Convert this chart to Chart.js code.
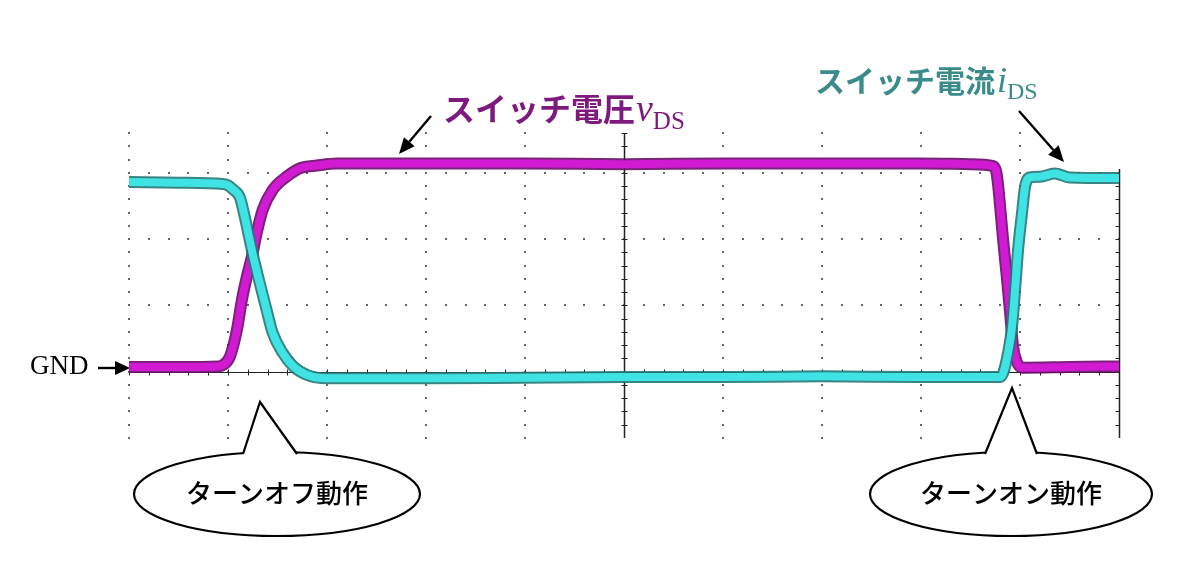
<!DOCTYPE html>
<html>
<head>
<meta charset="utf-8">
<script src="https://cdn.jsdelivr.net/npm/chart.js@4/dist/chart.umd.min.js"></script>
<style>
html,body{margin:0;padding:0;background:#fff;}
#wrap{width:1200px;height:582px;position:relative;}
</style>
</head>
<body>
<div id="wrap"><canvas id="c" width="1200" height="582"></canvas></div>
<script>
// time axis in oscilloscope divisions, amplitude in vertical divisions (GND = 0)
const vdsTime = [0, 0.5, 0.9, 0.95, 1.02, 1.09, 1.14, 1.19, 1.24, 1.29, 1.35, 1.45, 1.6, 1.73, 1.9, 2.1, 3, 4, 5, 6, 7, 8, 8.5, 8.73, 8.76, 8.78, 8.8, 8.83, 8.87, 8.9, 8.93, 8.97, 9.02, 9.5, 10];
const vdsValues = [0.07, 0.07, 0.08, 0.1, 0.23, 0.63, 1.08, 1.43, 1.73, 2.09, 2.44, 2.74, 2.95, 3.07, 3.11, 3.14, 3.14, 3.14, 3.13, 3.14, 3.14, 3.14, 3.13, 3.1, 3.02, 2.8, 2.48, 1.98, 1.38, 0.89, 0.38, 0.14, 0.06, 0.07, 0.08];
const idsTime = [0, 0.5, 0.95, 1.0, 1.05, 1.12, 1.17, 1.22, 1.27, 1.32, 1.39, 1.45, 1.55, 1.66, 1.8, 2.0, 3, 4, 5, 6, 7, 8, 8.5, 8.8, 8.83, 8.88, 8.92, 8.95, 8.98, 9.02, 9.05, 9.1, 9.2, 9.35, 9.5, 10];
const idsValues = [2.86, 2.85, 2.83, 2.81, 2.75, 2.63, 2.33, 1.98, 1.64, 1.34, 0.93, 0.59, 0.29, 0.08, -0.05, -0.1, -0.1, -0.09, -0.08, -0.08, -0.07, -0.08, -0.08, -0.08, -0.02, 0.29, 0.68, 1.23, 1.83, 2.39, 2.78, 2.93, 2.94, 2.99, 2.93, 2.92];

const xDivisions = [0, 1, 2, 3, 4, 5, 6, 7, 8, 9, 10];
const yDivisions = [1, 2, 3];

const vdsLabel = 'スイッチ電圧';
const idsLabel = 'スイッチ電流';
const gndLabel = 'GND';
const turnOffLabel = 'ターンオフ動作';
const turnOnLabel = 'ターンオン動作';

const toPts = (xs, ys) => xs.map((t, i) => ({x: t, y: ys[i]}));

const gridPlugin = {
  id: 'scopeGrid',
  beforeDatasetsDraw(chart) {
    const {ctx, scales: {x, y}, chartArea: a} = chart;
    ctx.save();
    ctx.fillStyle = '#666';
    xDivisions.forEach(gx => {
      if (gx === 5 || gx === 10) return;
      const px = Math.round(x.getPixelForValue(gx));
      for (let k = -5; k <= 18; k++) {
        const py = Math.round(y.getPixelForValue(k * 0.2));
        if (py < a.top || py > a.bottom) continue;
        ctx.fillRect(px - 1, py - 1, 2, 2);
      }
    });
    yDivisions.forEach(gy => {
      const py = Math.round(y.getPixelForValue(gy));
      for (let k = 0; k <= 50; k++) {
        const px = Math.round(x.getPixelForValue(k * 0.2));
        ctx.fillRect(px - 1, py - 1, 2, 2);
      }
    });
    ctx.strokeStyle = '#222';
    ctx.lineWidth = 1.5;
    const cx = Math.round(x.getPixelForValue(5)) + 0.5;
    ctx.beginPath(); ctx.moveTo(cx, a.top); ctx.lineTo(cx, a.bottom); ctx.stroke();
    const rx = Math.round(x.getPixelForValue(10)) + 0.5;
    ctx.beginPath(); ctx.moveTo(rx, a.top + 36); ctx.lineTo(rx, a.bottom); ctx.stroke();
    const gy = Math.round(y.getPixelForValue(0)) + 0.5;
    ctx.lineWidth = 1.2;
    ctx.beginPath(); ctx.moveTo(a.left, gy); ctx.lineTo(a.right, gy); ctx.stroke();
    ctx.lineWidth = 1;
    for (let k = -5; k <= 18; k++) {
      const py = Math.round(y.getPixelForValue(k * 0.2)) + 0.5;
      if (py < a.top || py > a.bottom) continue;
      ctx.beginPath(); ctx.moveTo(cx - 3, py); ctx.lineTo(cx + 3, py); ctx.stroke();
      if (py > a.top + 36) { ctx.beginPath(); ctx.moveTo(rx - 4, py); ctx.lineTo(rx, py); ctx.stroke(); }
    }
    for (let k = 0; k <= 50; k++) {
      const px = Math.round(x.getPixelForValue(k * 0.2)) + 0.5;
      ctx.beginPath(); ctx.moveTo(px, gy - 3); ctx.lineTo(px, gy + 3); ctx.stroke();
    }
    ctx.restore();
  }
};

function arrow(ctx, x1, y1, x2, y2, head, width) {
  const ang = Math.atan2(y2 - y1, x2 - x1);
  const bx = x2 - head * Math.cos(ang), by = y2 - head * Math.sin(ang);
  ctx.beginPath(); ctx.moveTo(x1, y1); ctx.lineTo(bx, by); ctx.stroke();
  ctx.beginPath();
  ctx.moveTo(x2, y2);
  ctx.lineTo(bx + width * Math.sin(ang), by - width * Math.cos(ang));
  ctx.lineTo(bx - width * Math.sin(ang), by + width * Math.cos(ang));
  ctx.closePath(); ctx.fill();
}

function callout(ctx, cx, cy, rx, ry, tip, baseL, baseR, text) {
  ctx.save();
  ctx.lineWidth = 2.2;
  ctx.strokeStyle = '#000';
  ctx.fillStyle = '#fff';
  ctx.beginPath(); ctx.ellipse(cx, cy, rx, ry, 0, 0, Math.PI * 2); ctx.fill(); ctx.stroke();
  ctx.beginPath();
  ctx.moveTo(tip[0], tip[1]); ctx.lineTo(baseL[0], baseL[1]); ctx.lineTo(baseL[0] + 2, baseL[1] + 5);
  ctx.lineTo(baseR[0] - 2, baseR[1] + 5); ctx.lineTo(baseR[0], baseR[1]); ctx.closePath(); ctx.fill();
  ctx.beginPath(); ctx.moveTo(baseL[0], baseL[1]); ctx.lineTo(tip[0], tip[1]); ctx.lineTo(baseR[0], baseR[1]); ctx.stroke();
  ctx.fillStyle = '#000';
  ctx.font = '500 26px "Noto Sans CJK JP", sans-serif';
  ctx.textAlign = 'center'; ctx.textBaseline = 'middle';
  ctx.fillText(text, cx, cy - 1);
  ctx.restore();
}

const labelPlugin = {
  id: 'labels',
  afterDraw(chart) {
    const ctx = chart.ctx;
    ctx.save();
    ctx.textBaseline = 'alphabetic'; ctx.textAlign = 'left';
    ctx.fillStyle = '#7e1a7e';
    ctx.font = 'bold 32px "Noto Sans CJK JP", sans-serif';
    ctx.fillText(vdsLabel, 443, 121);
    let w = ctx.measureText(vdsLabel).width;
    ctx.font = 'italic 38px "Liberation Serif", serif';
    ctx.fillText('v', 443 + w + 1, 121);
    let w2 = ctx.measureText('v').width;
    ctx.font = '25px "Liberation Serif", serif';
    ctx.fillText('DS', 443 + w + w2 + 1, 129);
    ctx.fillStyle = '#3b8b8b';
    ctx.font = 'bold 30px "Noto Sans CJK JP", sans-serif';
    ctx.fillText(idsLabel, 815, 92);
    w = ctx.measureText(idsLabel).width;
    ctx.font = 'italic 36px "Liberation Serif", serif';
    ctx.fillText('i', 815 + w + 2, 92);
    w2 = ctx.measureText('i').width;
    ctx.font = '24px "Liberation Serif", serif';
    ctx.fillText('DS', 815 + w + w2 + 2, 99);
    ctx.fillStyle = '#000';
    ctx.font = '27px "Liberation Serif", serif';
    ctx.textBaseline = 'middle';
    ctx.fillText(gndLabel, 30, 367);
    ctx.strokeStyle = '#000'; ctx.lineWidth = 2.4;
    arrow(ctx, 98, 368, 130, 368, 15, 7);
    arrow(ctx, 431, 116, 399, 154, 16, 7);
    arrow(ctx, 1019, 111, 1064, 162, 16, 7);
    ctx.restore();
    callout(ctx, 277, 494, 143, 42, [260, 402], [243, 454], [297, 454], turnOffLabel);
    callout(ctx, 1011, 494, 141, 42, [1012, 388], [985, 454], [1037, 454], turnOnLabel);
  }
};

const common = {pointRadius: 0, cubicInterpolationMode: 'monotone', clip: 0, fill: false};

new Chart(document.getElementById('c'), {
  type: 'line',
  data: {
    datasets: [
      Object.assign({label: 'iDS', data: toPts(idsTime, idsValues), borderColor: '#3fe3e3', borderWidth: 8, order: 0}, common),
      Object.assign({label: 'iDS edge', data: toPts(idsTime, idsValues), borderColor: 'rgba(35,120,120,0.9)', borderWidth: 12, order: 1}, common),
      Object.assign({label: 'vDS', data: toPts(vdsTime, vdsValues), borderColor: '#d21ad2', borderWidth: 8, order: 2}, common),
      Object.assign({label: 'vDS edge', data: toPts(vdsTime, vdsValues), borderColor: 'rgba(110,10,110,0.9)', borderWidth: 12, order: 3}, common)
    ]
  },
  options: {
    responsive: false,
    animation: false,
    layout: {padding: {left: 129, right: 81, top: 133, bottom: 144}},
    plugins: {legend: {display: false}, tooltip: {enabled: false}},
    scales: {
      x: {type: 'linear', min: 0, max: 10, display: false},
      y: {type: 'linear', min: -1, max: 3.6, display: false}
    }
  },
  plugins: [gridPlugin, labelPlugin]
});
</script>
</body>
</html>
